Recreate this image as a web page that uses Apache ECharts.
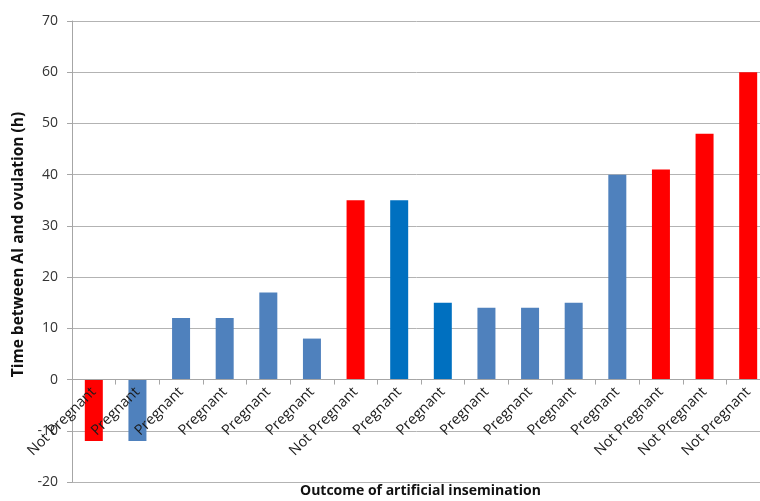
<!DOCTYPE html>
<html>
<head>
<meta charset="utf-8">
<script src="https://cdn.jsdelivr.net/npm/echarts@6/dist/echarts.min.js"></script>
<style>
  html, body { margin: 0; padding: 0; background: #fff; }
  #main { width: 760px; height: 501px; }
</style>
</head>
<body>
<div id="main"></div>
<script>
// data
var categories = ['Not Pregnant', 'Pregnant', 'Pregnant', 'Pregnant', 'Pregnant', 'Pregnant',
    'Not Pregnant', 'Pregnant', 'Pregnant', 'Pregnant', 'Pregnant', 'Pregnant', 'Pregnant',
    'Not Pregnant', 'Not Pregnant', 'Not Pregnant'];
var hours = [-12, -12, 12, 12, 17, 8, 35, 35, 15, 14, 14, 15, 40, 41, 48, 60];
var yTicks = [-20, -10, 0, 10, 20, 30, 40, 50, 60, 70];

// colours
var RED = '#ff0000', BLUE = '#4f81bd', DARK_BLUE = '#0070c0';
var darkIdx = [7, 8];

var myChart = echarts.init(document.getElementById('main'));

var gridTop = 21, gridBottom = 19;
var plotH = 501 - gridTop - gridBottom;
var yMin = yTicks[0], yMax = yTicks[yTicks.length - 1];
// move the category axis up to the zero line
var zeroOffset = -(0 - yMin) / (yMax - yMin) * plotH;

var barData = hours.map(function (v, i) {
    var c = categories[i] === 'Not Pregnant' ? RED : (darkIdx.indexOf(i) >= 0 ? DARK_BLUE : BLUE);
    return { value: v, itemStyle: { color: c } };
});

var option = {
    animation: false,
    grid: { left: 72, right: -10, top: gridTop, bottom: gridBottom, outerBoundsMode: 'none', containLabel: false },
    xAxis: {
        type: 'category',
        data: categories,
        z: 10,
        position: 'bottom',
        offset: zeroOffset,
        axisLine: { onZero: false, lineStyle: { color: '#a6a6a6', width: 1 } },
        axisTick: { show: true, length: 5, lineStyle: { color: '#a6a6a6' } },
        axisLabel: {
            rotate: 45, interval: 0, margin: 10,
            color: '#1a1a1a', fontSize: 14.5, fontFamily: 'Open Sans'
        }
    },
    yAxis: {
        type: 'value',
        min: yMin, max: yMax, interval: 10,
        axisLine: { show: true, lineStyle: { color: '#a6a6a6' } },
        axisTick: { show: true, length: 5, lineStyle: { color: '#a6a6a6' } },
        splitLine: { lineStyle: { color: '#b3b3b3', width: 1 } },
        axisLabel: { margin: 14, color: '#333', fontSize: 14, fontFamily: 'Open Sans' },
        name: 'Time between AI and ovulation (h)',
        nameLocation: 'middle',
        nameGap: 44,
        nameTextStyle: { color: '#111', fontSize: 15.5, fontWeight: 'bold', fontFamily: 'Open Sans', padding: [0, 0, 0, 14] }
    },
    graphic: [{
        type: 'text',
        left: 300, top: 484,
        style: {
            text: 'Outcome of artificial insemination',
            fill: '#111', font: 'bold 14px "Open Sans"'
        }
    }],
    series: [{
        type: 'bar',
        data: barData,
        barWidth: 18
    }]
};

myChart.setOption(option);
</script>
</body>
</html>
